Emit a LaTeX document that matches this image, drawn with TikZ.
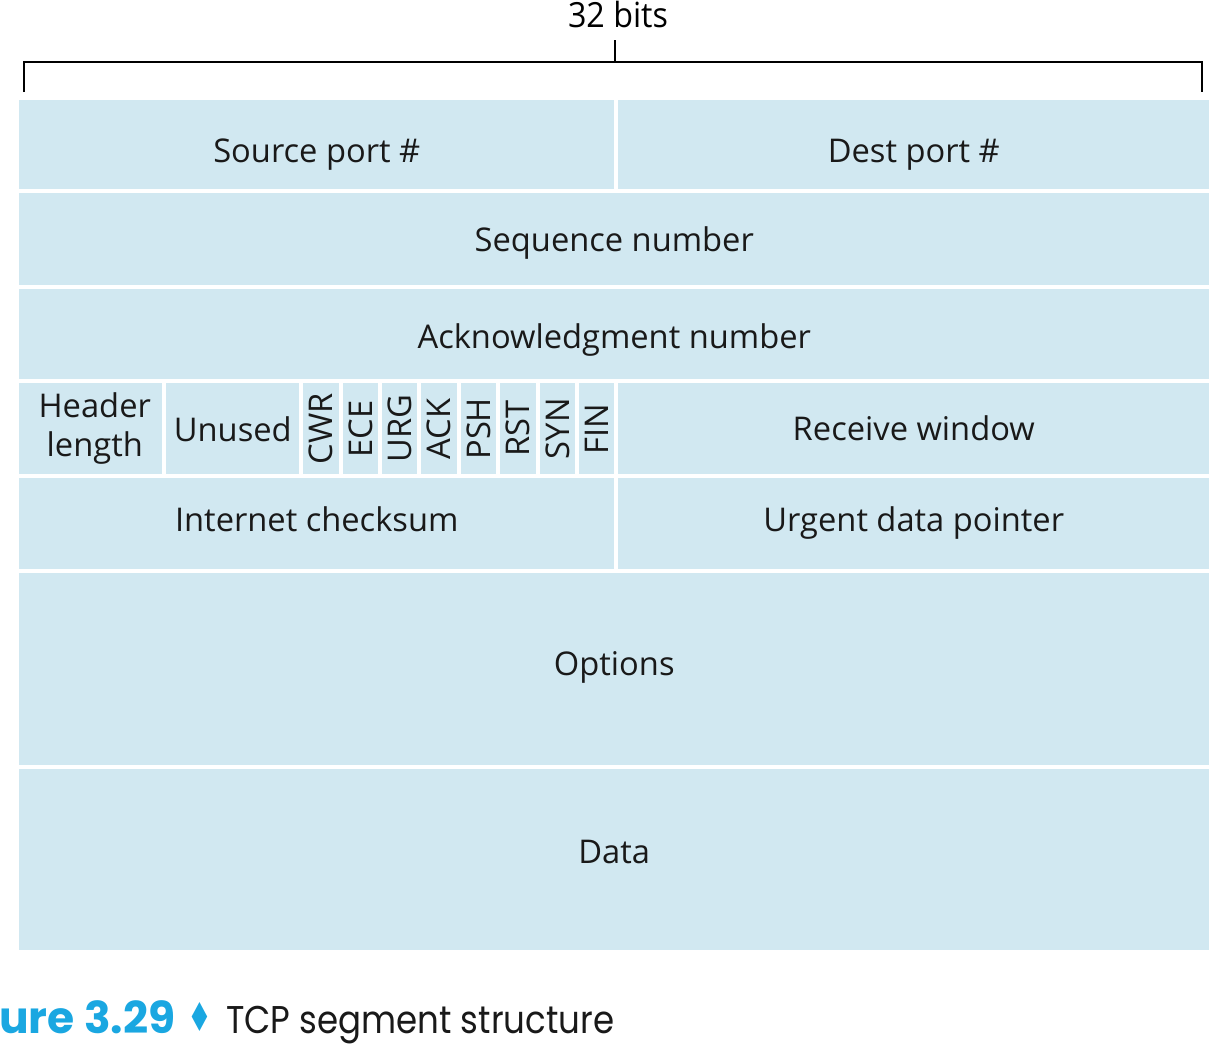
\documentclass[tikz,border=0pt]{standalone}
\usepackage{fontspec}
\setmainfont{Open Sans}
\newfontfamily\capfont{Poppins}
\newfontfamily\symfont{DejaVu Sans}
\definecolor{cellblue}{HTML}{D1E8F1}
\definecolor{capblue}{HTML}{1AA7E1}
\newcommand\cellbox[7]{%
  \pgfmathsetmacro\cw{(#4-#2)*0.75}%
  \pgfmathsetmacro\ch{(#5-#3)*0.75}%
  \node[cell,#7,minimum width=\cw pt,minimum height=\ch pt,anchor=north west] (#1) at (#2,#3) {#6};}
\begin{document}
\begin{tikzpicture}[x=0.75pt,y=-0.75pt,
  cell/.style={fill=cellblue,draw=none,inner sep=0pt,align=center,font=\fontsize{24.5}{30}\selectfont,text=black!90},
  bl/.style={text height=#1,text depth=0pt},
  brk/.style={draw=black,line width=0.9pt}]
\useasboundingbox (0,0) rectangle (1216,1050);
% bracket
\node[font=\fontsize{26}{30}\selectfont,anchor=base,inner sep=0pt] (bits) at (618,27) {\scalebox{0.93}[1]{32 bits}};
\coordinate (btop) at (615,40);
\coordinate (bmid) at (615,62);
\coordinate (bl) at (24,62);
\coordinate (br) at (1202,62);
\coordinate (bld) at (24,92);
\coordinate (brd) at (1202,92);
\draw[brk] (btop) -- (bmid);
\draw[brk] (bld) -- (bl) -- (br) -- (brd);
% rows
\cellbox{src}{19}{100}{614}{189}{Source port \#}{bl=26.25pt}
\cellbox{dst}{618}{100}{1209}{189}{Dest port \#}{bl=26.25pt}
\cellbox{seq}{19}{193}{1209}{285}{Sequence number}{bl=18pt}
\cellbox{ack}{19}{289}{1209}{379}{Acknowledgment number}{bl=21pt}
\cellbox{hl}{19}{383}{162}{474}{\hspace*{6pt}Header\\[-1pt]\hspace*{6pt}length}{}
\cellbox{unused}{166}{383}{299}{474}{Unused}{bl=18.75pt}
\cellbox{cwr}{303}{383}{338.4}{474}{\rotatebox{90}{CWR}}{}
\cellbox{ece}{342.4}{383}{377.8}{474}{\rotatebox{90}{ECE}}{}
\cellbox{urg}{381.8}{383}{417.2}{474}{\rotatebox{90}{URG}}{}
\cellbox{ackf}{421.2}{383}{456.6}{474}{\rotatebox{90}{ACK}}{}
\cellbox{psh}{460.6}{383}{496}{474}{\rotatebox{90}{PSH}}{}
\cellbox{rst}{500}{383}{535.4}{474}{\rotatebox{90}{RST}}{}
\cellbox{syn}{539.4}{383}{574.8}{474}{\rotatebox{90}{SYN}}{}
\cellbox{fin}{578.8}{383}{614.2}{474}{\rotatebox{90}{FIN}}{}
\cellbox{rwnd}{618}{383}{1209}{474}{Receive window}{bl=17.25pt}
\cellbox{cksum}{19}{478}{614}{569}{Internet checksum}{bl=11.25pt}
\cellbox{urgp}{618}{478}{1209}{569}{Urgent data pointer}{bl=11.25pt}
\cellbox{opt}{19}{573}{1209}{765}{Options}{bl=9pt}
\cellbox{data}{19}{769}{1209}{950}{Data}{bl=5.25pt}
% caption
\node[anchor=base west,inner sep=0pt,text=capblue,font=\capfont\fontsize{33}{38}\selectfont\bfseries] (fig) at (-1,1033) {ure 3.29};
\node[anchor=base,inner sep=0pt,text=capblue,font=\symfont\fontsize{26}{30}\selectfont] (dia) at (200,1031) {\scalebox{0.8}[1.15]{♦}};
\node[anchor=base west,inner sep=0pt,text=black!90,font=\capfont\fontsize{29}{34}\selectfont] (capt) at (226,1033) {\scalebox{0.88}[1]{TCP segment structure}};
\end{tikzpicture}
\end{document}
